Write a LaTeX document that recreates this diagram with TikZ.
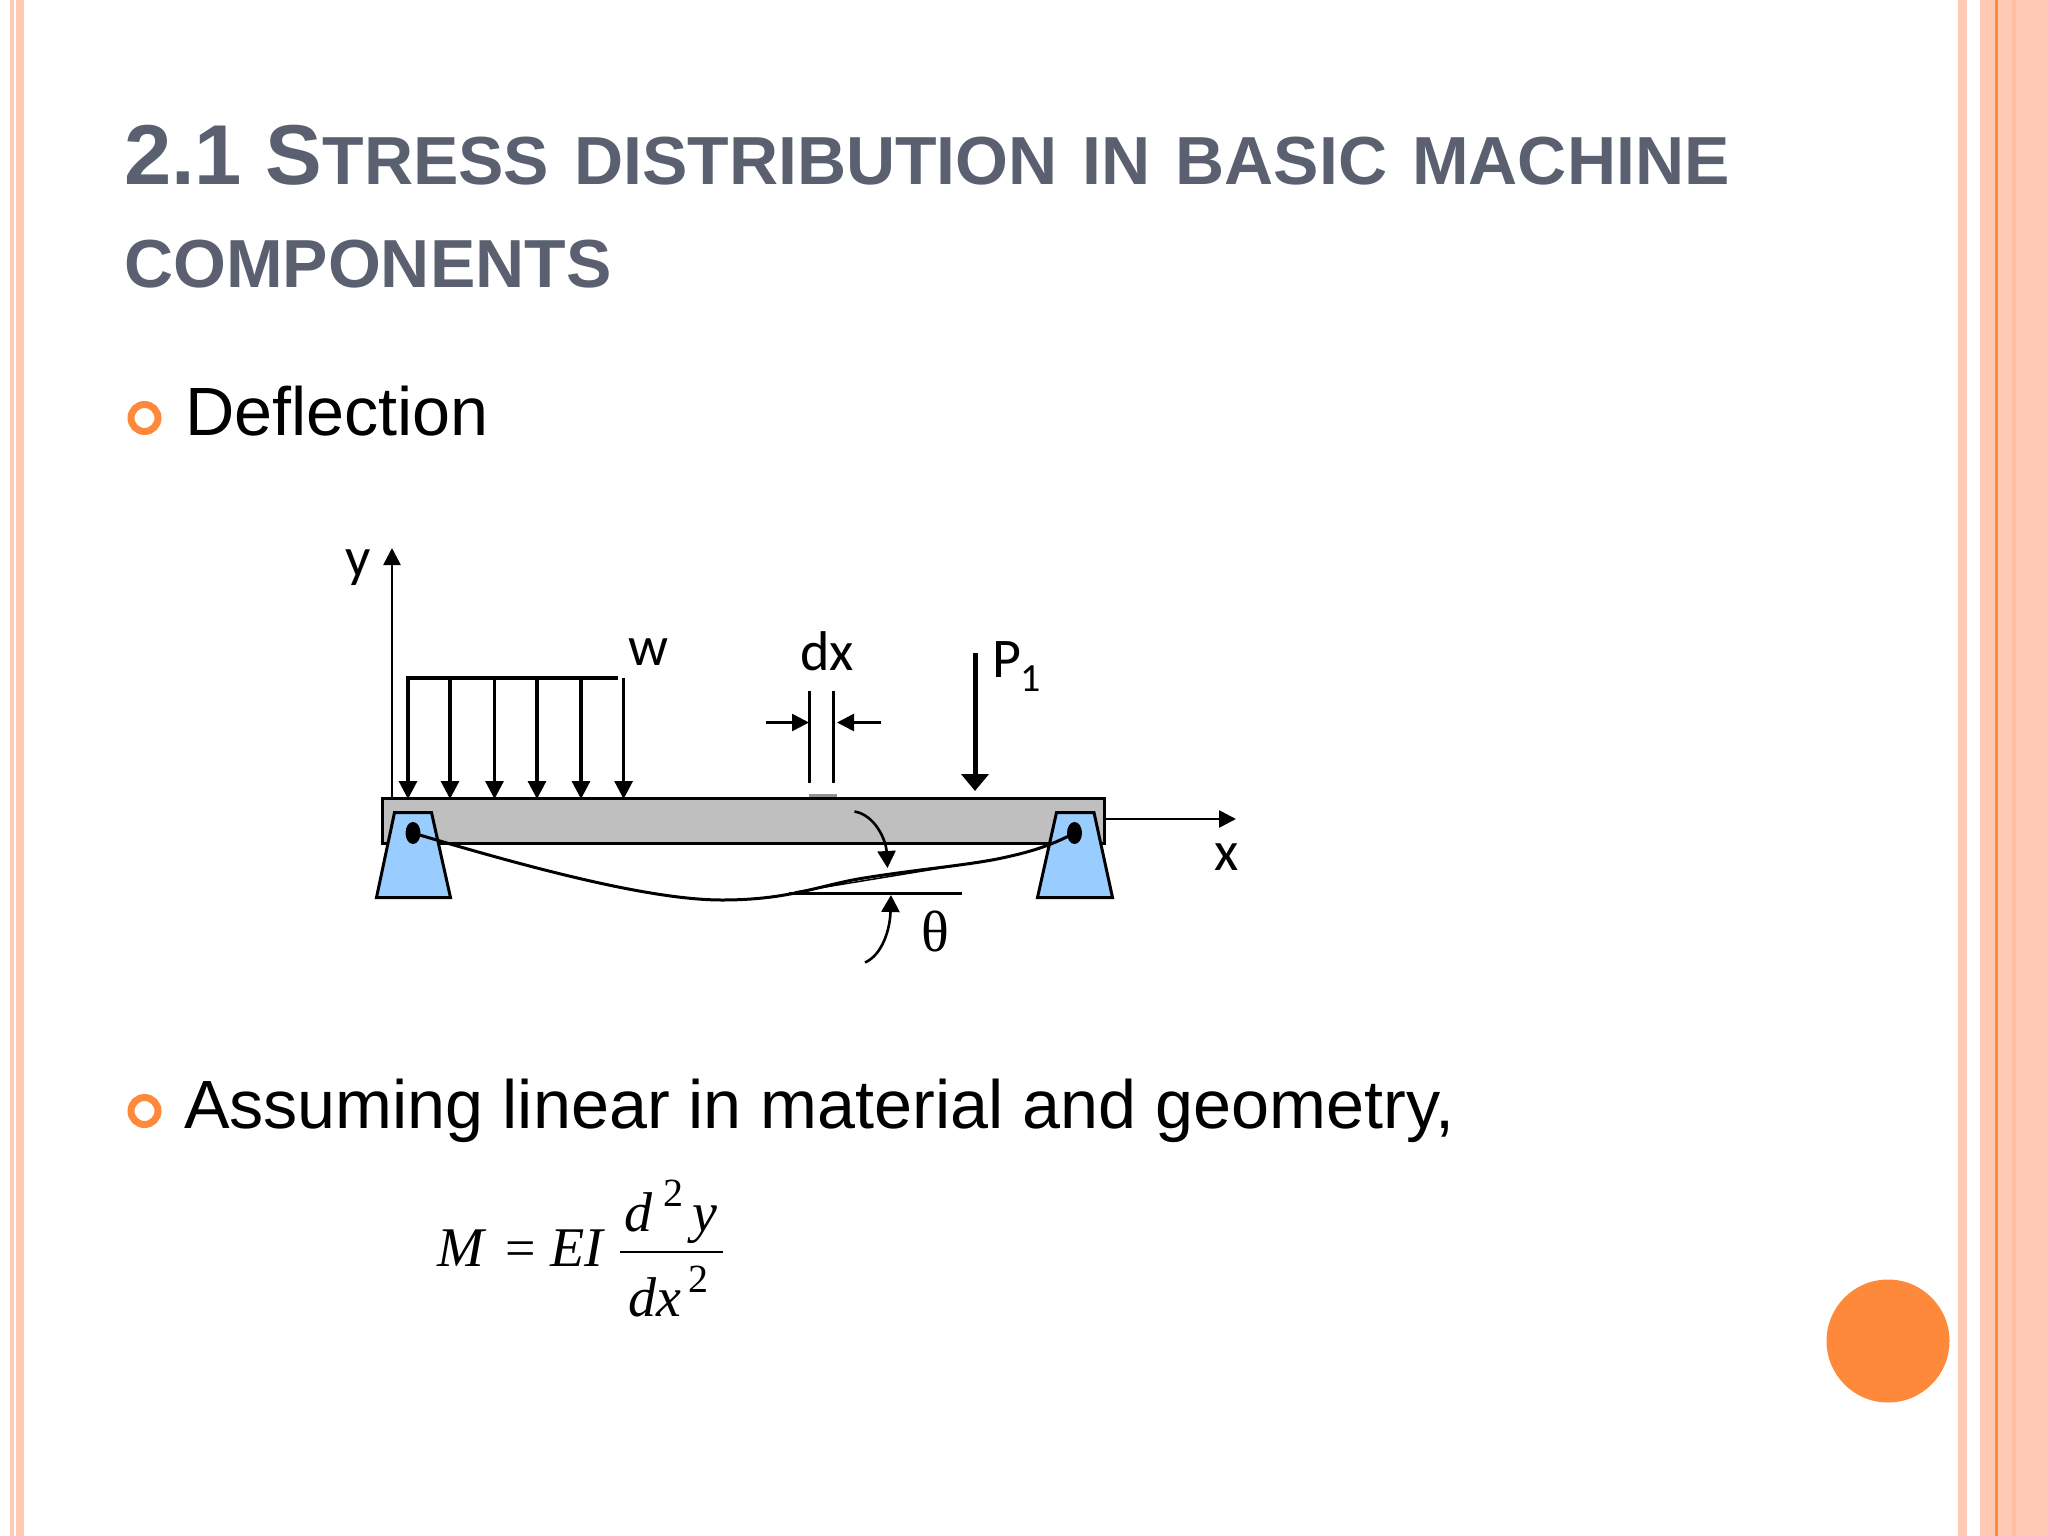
\documentclass[tikz,border=0pt]{standalone}
\usepackage{fontspec}
\setmainfont{Liberation Sans}
\newfontfamily\figfont{Carlito}
\newfontfamily\eqfont{Liberation Serif}
\usetikzlibrary{arrows.meta,positioning,shapes.geometric}
\definecolor{stripe}{HTML}{FFC9B3}
\definecolor{stripedark}{HTML}{FFBFA3}
\definecolor{accent}{HTML}{FF893B}
\definecolor{titlegray}{HTML}{5A6070}
\definecolor{support}{HTML}{99CCFF}
\definecolor{beam}{HTML}{BFBFBF}
\newcommand{\fs}[1]{\fontsize{#1}{#1}\selectfont}
\begin{document}
\begin{tikzpicture}[x=1pt,y=-1pt,
    every node/.style={inner sep=0pt,outer sep=0pt},
    load arrow/.style={line width=3.2pt,-{Triangle[length=18pt,width=18pt]}},
    small arrow/.style={line width=2.6pt,-{Triangle[length=17pt,width=17pt]}},
    curve arrow/.style={line width=2.6pt,-{Triangle[length=17pt,width=18pt]}},
    stand/.style={draw=black,line width=3pt,fill=support,line join=miter},
    pin/.style={ellipse,fill=black,minimum width=15pt,minimum height=22pt},
    bullet/.style={circle,draw=accent,line width=7pt,minimum size=27pt},
    figlabel/.style={font=\figfont\fs{56},text=black,anchor=base},
    bodytext/.style={font=\fs{68.3},anchor=base west,text=black},
    titletext/.style={font=\bfseries\fs{68},anchor=base west,text=titlegray},
    eqtext/.style={font=\eqfont\itshape\fs{56},anchor=base west},
    eqsup/.style={font=\eqfont\fs{40},anchor=base west}
    ]
    \useasboundingbox (0,0) rectangle (2048,1536);
    \fill[white] (0,0) rectangle (2048,1536);
    % borders
    \fill[stripe] (10,0) rectangle (14,1536);
    \fill[stripe] (15.7,0) rectangle (24,1536);
    \fill[stripe] (1958,0) rectangle (1967,1536);
    \fill[stripe] (1980,0) rectangle (2048,1536);
    \fill[stripedark] (2012,0) rectangle (2016,1536);
    \fill[accent] (1995,0) rectangle (1998,1536);
    \node[circle,fill=accent,minimum size=123pt] (dot) at (1888,1341) {};
    % title and text
    \node[titletext] (title1) at (124,184.5) {{\fs{85}2.1 S}\spaceskip=25pt TRESS DISTRIBUTION IN BASIC MACHINE};
    \node[titletext] (title2) at (124,287.5) {COMPONENTS};
    \node[bullet] (b1) at (144.5,418) {};
    \node[bodytext] (defl) at (185,435) {Deflection};
    \node[bullet] (b2) at (144.5,1111) {};
    \node[bodytext] (assume) at (184,1128) {Assuming linear in material and geometry,};
    % beam and supports
    \node[draw=black,line width=3pt,fill=beam,minimum width=722pt,minimum height=45pt] (beamrect) at (743,821) {};
    \fill[gray!85] (809,793.5) rectangle (836.5,797);
    \draw[stand] (394.5,812.5) -- (431.5,812.5) -- (450.5,897.5) -- (376.5,897.5) -- cycle;
    \draw[stand] (1056.5,812.5) -- (1094,812.5) -- (1112.5,897.5) -- (1037.5,897.5) -- cycle;
    \node[pin] (pinL) at (413,833) {};
    \node[pin] (pinR) at (1074.5,833) {};
    % deflected shape
    \draw[line width=3pt] (pinL.center) .. controls (530,868) and (650,900) .. (722,900)
        .. controls (790,900) and (820,885) .. (864,878)
        .. controls (920,869) and (970,865) .. (1002,858)
        .. controls (1030,852) and (1050,846) .. (pinR.center);
    \draw[line width=1.5pt] (795,892) -- (1002,858);
    \coordinate (tanL) at (789,893);
    \coordinate (tanR) at (962,893);
    \draw[line width=3pt] (tanL) -- (tanR);
    % axes
    \coordinate (origin) at (392,798);
    \draw[small arrow] (origin) -- (392,548);
    \draw[small arrow] (beamrect.east |- 0,819) -- (1236,819);
    \node[figlabel] (ylab) at (358.5,576) {y};
    \node[figlabel] (xlab) at (1227,870) {x};
    % distributed load
    \draw[line width=3.2pt] (406,678) -- (618,678);
    \foreach \xpos in {408,450,494.5,537,581,623.6} {
        \draw[load arrow] (\xpos,678) -- (\xpos,799);
    }
    \node[figlabel] (wlab) at (649,665) {w};
    % dx
    \draw[line width=2.6pt] (809.5,691) -- (809.5,783);
    \draw[line width=2.6pt] (833.5,691) -- (833.5,783);
    \draw[small arrow] (765.5,722.5) -- (809,722.5);
    \draw[small arrow] (881,722.5) -- (837,722.5);
    \node[figlabel] (dxlab) at (827,670) {dx};
    % point load
    \draw[line width=5pt,-{Triangle[length=17pt,width=27pt]}] (975,653) -- (975,791);
    \node[figlabel,anchor=base west] (plab) at (992,677) {P\raisebox{-14pt}{\fs{40}1}};
    % angle
    \draw[curve arrow] (854.5,811.5) .. controls (875,815) and (886,840) .. (887.5,868);
    \draw[curve arrow] (865,962.5) .. controls (882,955) and (890,930) .. (891,895);
    \node[anchor=base,font=\eqfont\fs{58}] (thetalab) at (935,951) {θ};
    % formula
    \node[eqtext] (eqM) at (437,1266) {M};
    \node[eqtext,font=\eqfont\fs{54}] (eqeq) at (505,1266) {=};
    \node[eqtext] (eqEI) at (550,1266) {EI};
    \coordinate (barL) at (620,1252);
    \coordinate (barR) at (723,1252);
    \draw[line width=2.4pt] (barL) -- (barR);
    \node[eqtext] (eqd) at (624,1231) {d};
    \node[eqsup] (eqtwo) at (663,1206) {2};
    \node[eqtext] (eqy) at (692,1231) {y};
    \node[eqtext] (eqdx) at (628,1316.5) {dx};
    \node[eqsup] (eqtwob) at (688,1292.5) {2};
\end{tikzpicture}
\end{document}
